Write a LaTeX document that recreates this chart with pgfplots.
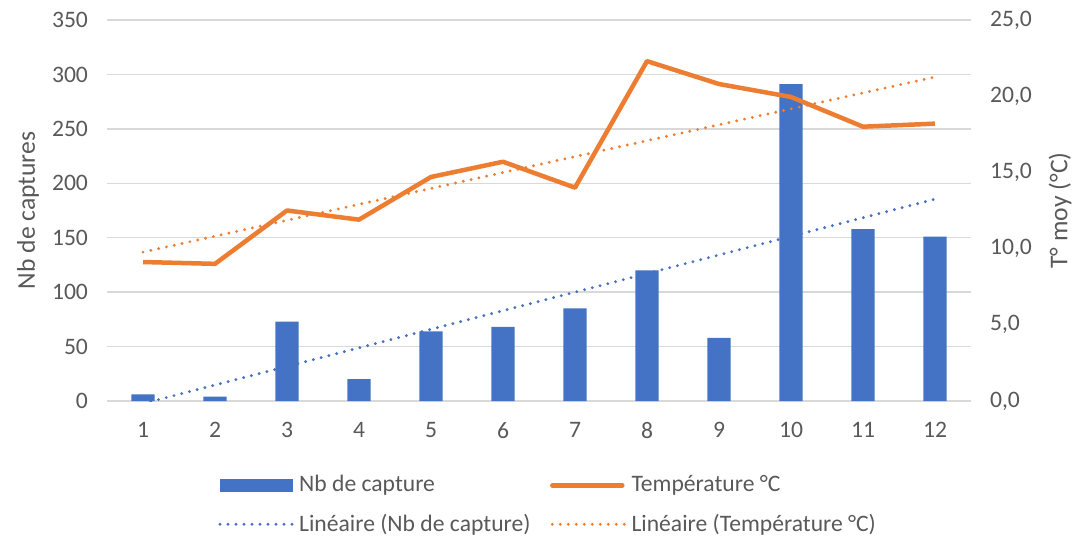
\documentclass[border=0pt]{standalone}
\usepackage{fontspec}
\setmainfont{Carlito}
\usepackage{pgfplots}
\pgfplotsset{compat=1.18}
\usetikzlibrary{calc}
\definecolor{barblue}{HTML}{4472C4}
\definecolor{xlorange}{HTML}{ED7D31}
\definecolor{gridgray}{HTML}{D9D9D9}
\definecolor{txtgray}{HTML}{595959}
\tikzset{dotline/.style={line width=1.6pt, line cap=round, dash pattern=on 0pt off 4pt}}

\begin{document}
\begin{tikzpicture}
\pgfplotsset{
  common/.style={scale only axis, width=432pt, height=190.5pt, xmin=0.5, xmax=12.5,
    axis line style={draw=none}, major tick length=0pt,
    tick label style={font=\fontsize{11.8}{14}\selectfont, text=txtgray},
    label style={font=\fontsize{12.8}{15}\selectfont, text=txtgray},
    /pgf/number format/assume math mode=true}
}
% left axis: captures
\begin{axis}[common, ymin=0, ymax=350, ytick={0,50,...,350}, xtick={1,...,12},
  ymajorgrids, grid style={gridgray, line width=0.75pt},
  ylabel={Nb de captures}, ylabel style={at={(axis description cs:-0.0914,0.5)}, anchor=center},
  yticklabel style={xshift=-6pt}, xticklabel style={yshift=-7pt}]
  \addplot[ybar, bar width=0.32, fill=barblue, draw=none] coordinates {
    (1,6) (2,4) (3,73) (4,20) (5,64) (6,68) (7,85) (8,120) (9,58) (10,291) (11,158) (12,151)};
  % linear trend of the captures
  \addplot[barblue, dotline] coordinates {(1,-2.4) (12,185.4)};
  \coordinate (ll) at (rel axis cs:0,0);
  \coordinate (ur) at (rel axis cs:1,1);
\end{axis}
% right axis: temperature
\begin{axis}[common, ymin=0, ymax=25, ytick={0,5,...,25}, xtick=\empty,
  yticklabel pos=right,
  yticklabel style={xshift=6pt, /pgf/number format/fixed, /pgf/number format/fixed zerofill,
    /pgf/number format/precision=1, /pgf/number format/use comma},
  ylabel={T° moy (°C)}, ylabel style={at={(axis description cs:1.103,0.5)}, anchor=center},
  legend columns=2,
  legend style={draw=none, fill=none, at={(axis description cs:0.1215,-0.18)}, anchor=north west,
    font=\fontsize{11.8}{14}\selectfont, text=txtgray, row sep=8pt,
    nodes={inner sep=0.8pt},
    /tikz/every even column/.append style={column sep=9pt}},
  legend cell align=left]
  \addlegendimage{legend image code/.code={\fill[barblue] (0pt,-3pt) rectangle (36pt,3pt);}}
  \addlegendentry{Nb de capture}
  \addplot[xlorange, line width=2.25pt, line join=round,
    legend image code/.code={\draw[xlorange, line width=2.25pt, line cap=round] (0pt,0pt) -- (35pt,0pt);}]
    coordinates {(1,9.12) (2,9.0) (3,12.5) (4,11.9) (5,14.7) (6,15.7) (7,14.0) (8,22.3) (9,20.8) (10,19.95) (11,18.0) (12,18.2)};
  \addlegendentry{Température °C}
  \addlegendimage{legend image code/.code={\draw[barblue, dotline] (0pt,0pt) -- (38pt,0pt);}}
  \addlegendentry{Linéaire (Nb de capture)}
  \addplot[xlorange, dotline,
    legend image code/.code={\draw[xlorange, dotline] (0pt,0pt) -- (38pt,0pt);}]
    coordinates {(1,9.77) (12,21.26)};
  \addlegendentry{Linéaire (Température °C)}
\end{axis}
\pgfresetboundingbox
\path ($(ll)+(-53.5pt,-70.5pt)$) rectangle ($(ur)+(52.5pt,10pt)$);
\end{tikzpicture}
\end{document}
